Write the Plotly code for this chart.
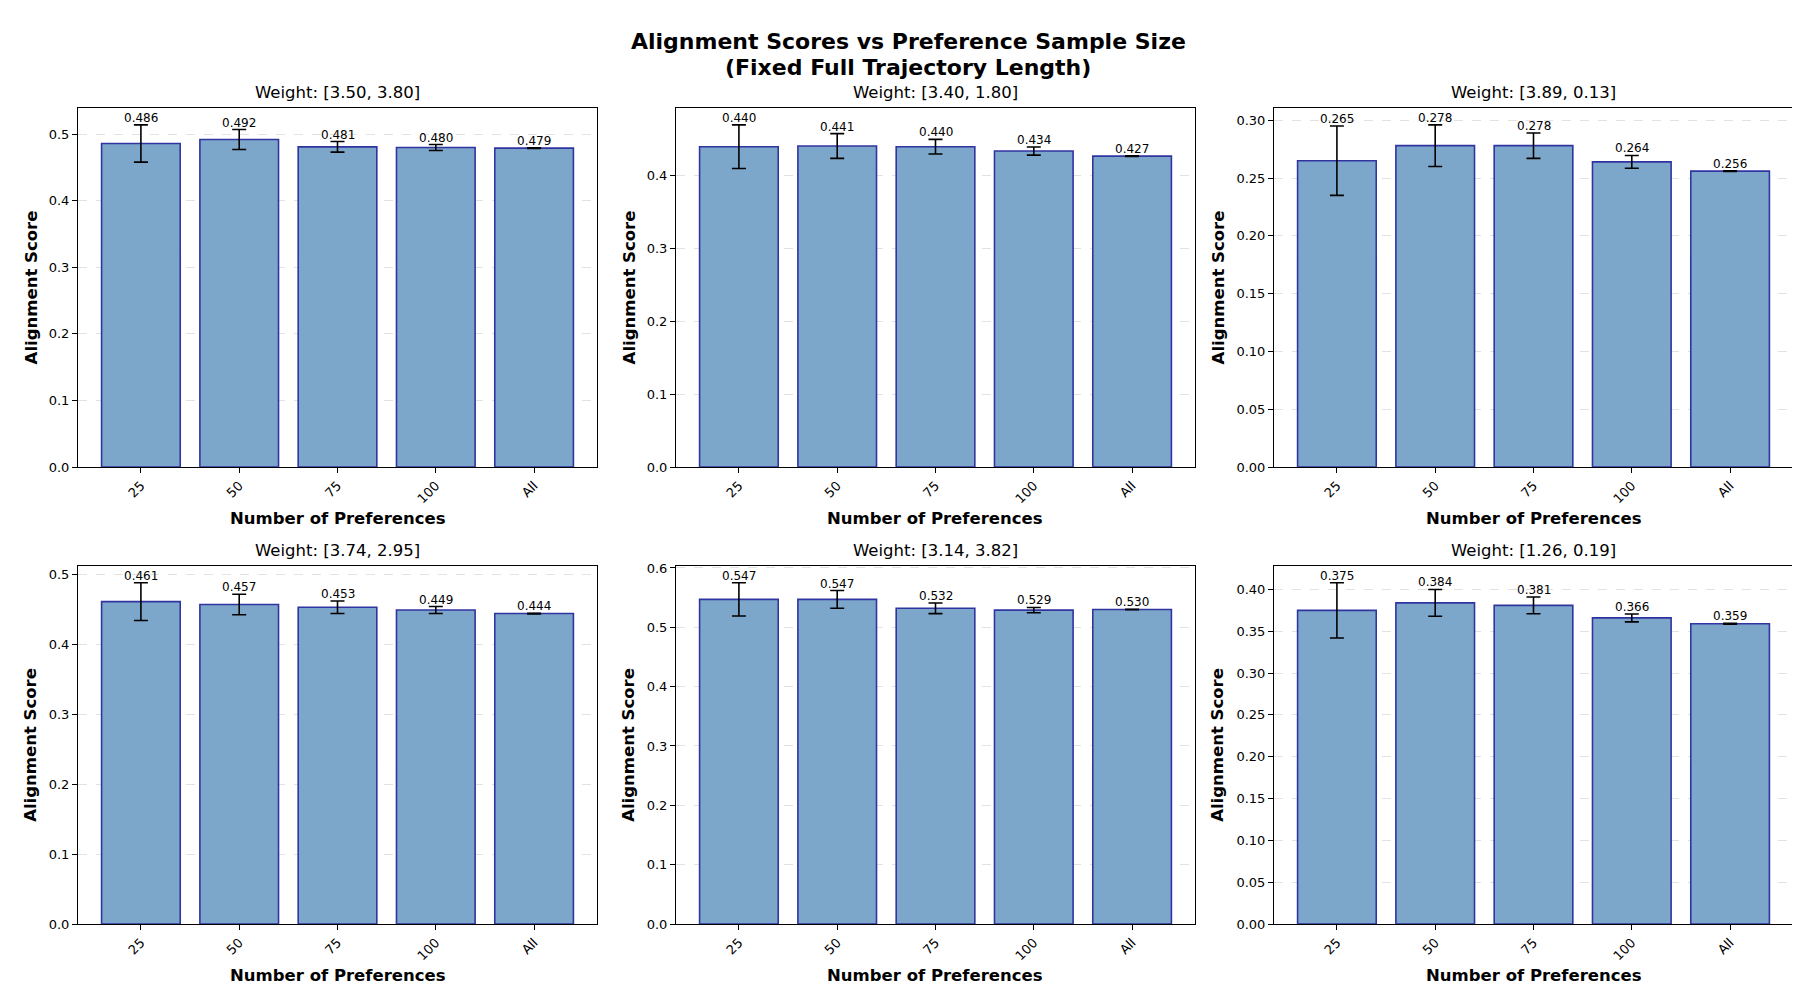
import plotly.graph_objects as go

categories = ["25", "50", "75", "100", "All"]
titles = ["Weight: [3.50, 3.80]", "Weight: [3.40, 1.80]", "Weight: [3.89, 0.13]",
          "Weight: [3.74, 2.95]", "Weight: [3.14, 3.82]", "Weight: [1.26, 0.19]"]

scores_1 = [0.486, 0.492, 0.481, 0.480, 0.479]
errors_1 = [0.028, 0.015, 0.008, 0.0045, 0.0005]
scores_2 = [0.440, 0.441, 0.440, 0.434, 0.427]
errors_2 = [0.030, 0.017, 0.010, 0.0056, 0.0005]
scores_3 = [0.265, 0.278, 0.278, 0.264, 0.256]
errors_3 = [0.030, 0.018, 0.011, 0.0055, 0.0003]
scores_4 = [0.461, 0.457, 0.453, 0.449, 0.444]
errors_4 = [0.027, 0.0147, 0.009, 0.005, 0.0005]
scores_5 = [0.547, 0.547, 0.532, 0.529, 0.530]
errors_5 = [0.028, 0.015, 0.009, 0.0044, 0.0005]
scores_6 = [0.375, 0.384, 0.381, 0.366, 0.359]
errors_6 = [0.033, 0.016, 0.010, 0.0047, 0.0005]

ytick_steps = [0.1, 0.1, 0.05, 0.1, 0.1, 0.05]
ytick_formats = [".1f", ".1f", ".2f", ".1f", ".1f", ".2f"]

all_scores = [scores_1, scores_2, scores_3, scores_4, scores_5, scores_6]
all_errors = [errors_1, errors_2, errors_3, errors_4, errors_5, errors_6]

W, H = 1800, 1000
FONT = "DejaVu Sans"
col_px = [(70, 589), (668, 1187), (1266, 1785)]
row_px = [(96, 460), (560, 923)]

def px(x):
    return x / W

def py(y):
    return 1 - y / H

fig = go.Figure()
annotations = []
layout = {}

for i in range(6):
    r, c = divmod(i, 3)
    n = i + 1
    xa = "x" if n == 1 else f"x{n}"
    ya = "y" if n == 1 else f"y{n}"
    vals = all_scores[i]
    errs = all_errors[i]
    fig.add_trace(go.Bar(
        x=categories, y=vals, xaxis=xa, yaxis=ya,
        marker=dict(color="rgb(125,167,202)", line=dict(color="rgb(48,52,160)", width=1.6)),
        error_y=dict(type="data", array=errs, visible=True, color="black", thickness=1.6, width=7),
        showlegend=False, hoverinfo="skip",
    ))
    ymax = max(v + e for v, e in zip(vals, errs)) * 1.05
    step = ytick_steps[i]
    nt = int(ymax / step + 1e-9)
    tickvals = [round(k * step, 4) for k in range(nt + 1)]
    x0, x1 = col_px[c]
    y0, y1 = row_px[r]
    layout["xaxis" if n == 1 else f"xaxis{n}"] = dict(
        domain=[px(x0), px(x1)], anchor=ya, type="category",
        range=[-0.64, 4.64], tickangle=-45, ticks="outside", ticklen=5, tickwidth=1,
        tickcolor="black", showline=True, linecolor="black", linewidth=1, mirror=True,
        showgrid=False, zeroline=False, tickfont=dict(family=FONT, size=13, color="black"),
    )
    layout["yaxis" if n == 1 else f"yaxis{n}"] = dict(
        domain=[py(y1), py(y0)], anchor=xa, range=[0, ymax],
        tickvals=tickvals, tickformat=ytick_formats[i],
        ticks="outside", ticklen=5, tickwidth=1, tickcolor="black",
        showline=True, linecolor="black", linewidth=1, mirror=True,
        showgrid=True, gridcolor="rgba(160,160,160,0.3)", griddash="dash", gridwidth=1,
        zeroline=False, tickfont=dict(family=FONT, size=13, color="black"),
    )
    # subplot title
    annotations.append(dict(
        text=titles[i], x=px((x0 + x1) / 2), y=py(y0 - 4), xref="paper", yref="paper",
        xanchor="center", yanchor="bottom", showarrow=False,
        font=dict(family=FONT, size=16.5, color="black"),
    ))
    # x axis title
    annotations.append(dict(
        text="<b>Number of Preferences</b>", x=px((x0 + x1) / 2), y=py(y1 + 52),
        xref="paper", yref="paper", xanchor="center", yanchor="middle", showarrow=False,
        font=dict(family=FONT, size=16.5, color="black"),
    ))
    # y axis title
    off = 56 if ytick_formats[i] == ".2f" else 47
    annotations.append(dict(
        text="<b>Alignment Score</b>", x=px(x0 - off), y=py((y0 + y1) / 2),
        xref="paper", yref="paper", xanchor="center", yanchor="middle", textangle=-90,
        showarrow=False, font=dict(family=FONT, size=16.5, color="black"),
    ))
    # value labels
    for j, (v, e) in enumerate(zip(vals, errs)):
        annotations.append(dict(
            text=f"{v:.3f}", x=j, y=v + e, xref=xa, yref=ya,
            xanchor="center", yanchor="bottom", showarrow=False, yshift=-2,
            font=dict(family=FONT, size=12, color="black"),
        ))

main_title_lines = ["Alignment Scores vs Preference Sample Size", "(Fixed Full Trajectory Length)"]
for k, (line, yc) in enumerate(zip(main_title_lines, [29, 55])):
    annotations.append(dict(
        text=f"<b>{line}</b>", x=0.5, y=py(yc), xref="paper", yref="paper",
        xanchor="center", yanchor="middle", showarrow=False,
        font=dict(family=FONT, size=22, color="black"),
    ))

fig.update_layout(
    width=W, height=H, margin=dict(l=0, r=0, t=0, b=0),
    paper_bgcolor="white", plot_bgcolor="white",
    bargap=0.2, annotations=annotations, **layout,
)

fig.write_html("out.html")
